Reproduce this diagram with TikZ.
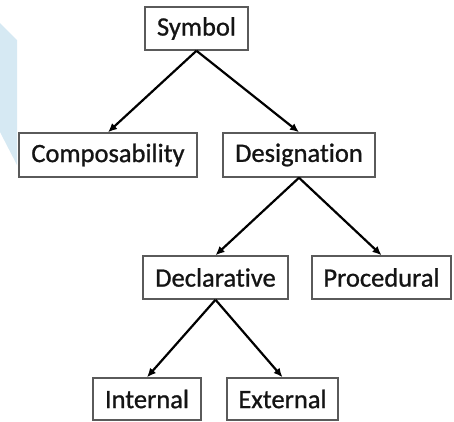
\documentclass[tikz,border=0pt]{standalone}
\usepackage{fontspec}
\setmainfont{Carlito}[FakeBold=0.9,Ligatures=NoCommon]
\usetikzlibrary{arrows.meta}
\definecolor{panelblue}{RGB}{214,233,243}
\definecolor{boxline}{RGB}{90,90,90}
\definecolor{inkcol}{RGB}{20,20,20}
\begin{document}
\begin{tikzpicture}[x=1pt,y=-1pt,
  box/.style={draw=boxline,line width=1.5pt,fill=white,inner sep=0pt,
    text=inkcol,font=\fontsize{26.5}{30}\selectfont},
  link/.style={line width=2.2pt,draw=black,-{Latex[length=9pt,width=8pt]}}]
  \useasboundingbox (0,0) rectangle (454,421);
  % pale panel at the left edge
  \fill[panelblue] (0,23) -- (17,40) -- (17,165) -- (0,132) -- cycle;
  % boxes
  \node[box,minimum width=103pt,minimum height=43pt] (sym) at (196.5,28.5) {Symbol};
  \node[box,minimum width=178pt,minimum height=44pt] (comp) at (108,155) {Composability};
  \node[box,minimum width=152pt,minimum height=44pt] (des) at (299,155) {Designation};
  \node[box,minimum width=145pt,minimum height=43pt] (decl) at (215.5,277.5) {Declarative};
  \node[box,minimum width=139pt,minimum height=43pt] (proc) at (381.5,277.5) {Procedural};
  \node[box,minimum width=108pt,minimum height=42pt] (int) at (147,399) {Internal};
  \node[box,minimum width=111pt,minimum height=42pt] (ext) at (282.5,399) {External};
  % connectors
  \draw[link] (sym.south) -- (comp.north);
  \draw[link] (sym.south) -- (des.north);
  \draw[link] (des.south) -- (decl.north);
  \draw[link] (des.south) -- (proc.north);
  \draw[link] (decl.south) -- (int.north);
  \draw[link] (decl.south) -- (ext.north);
\end{tikzpicture}
\end{document}
